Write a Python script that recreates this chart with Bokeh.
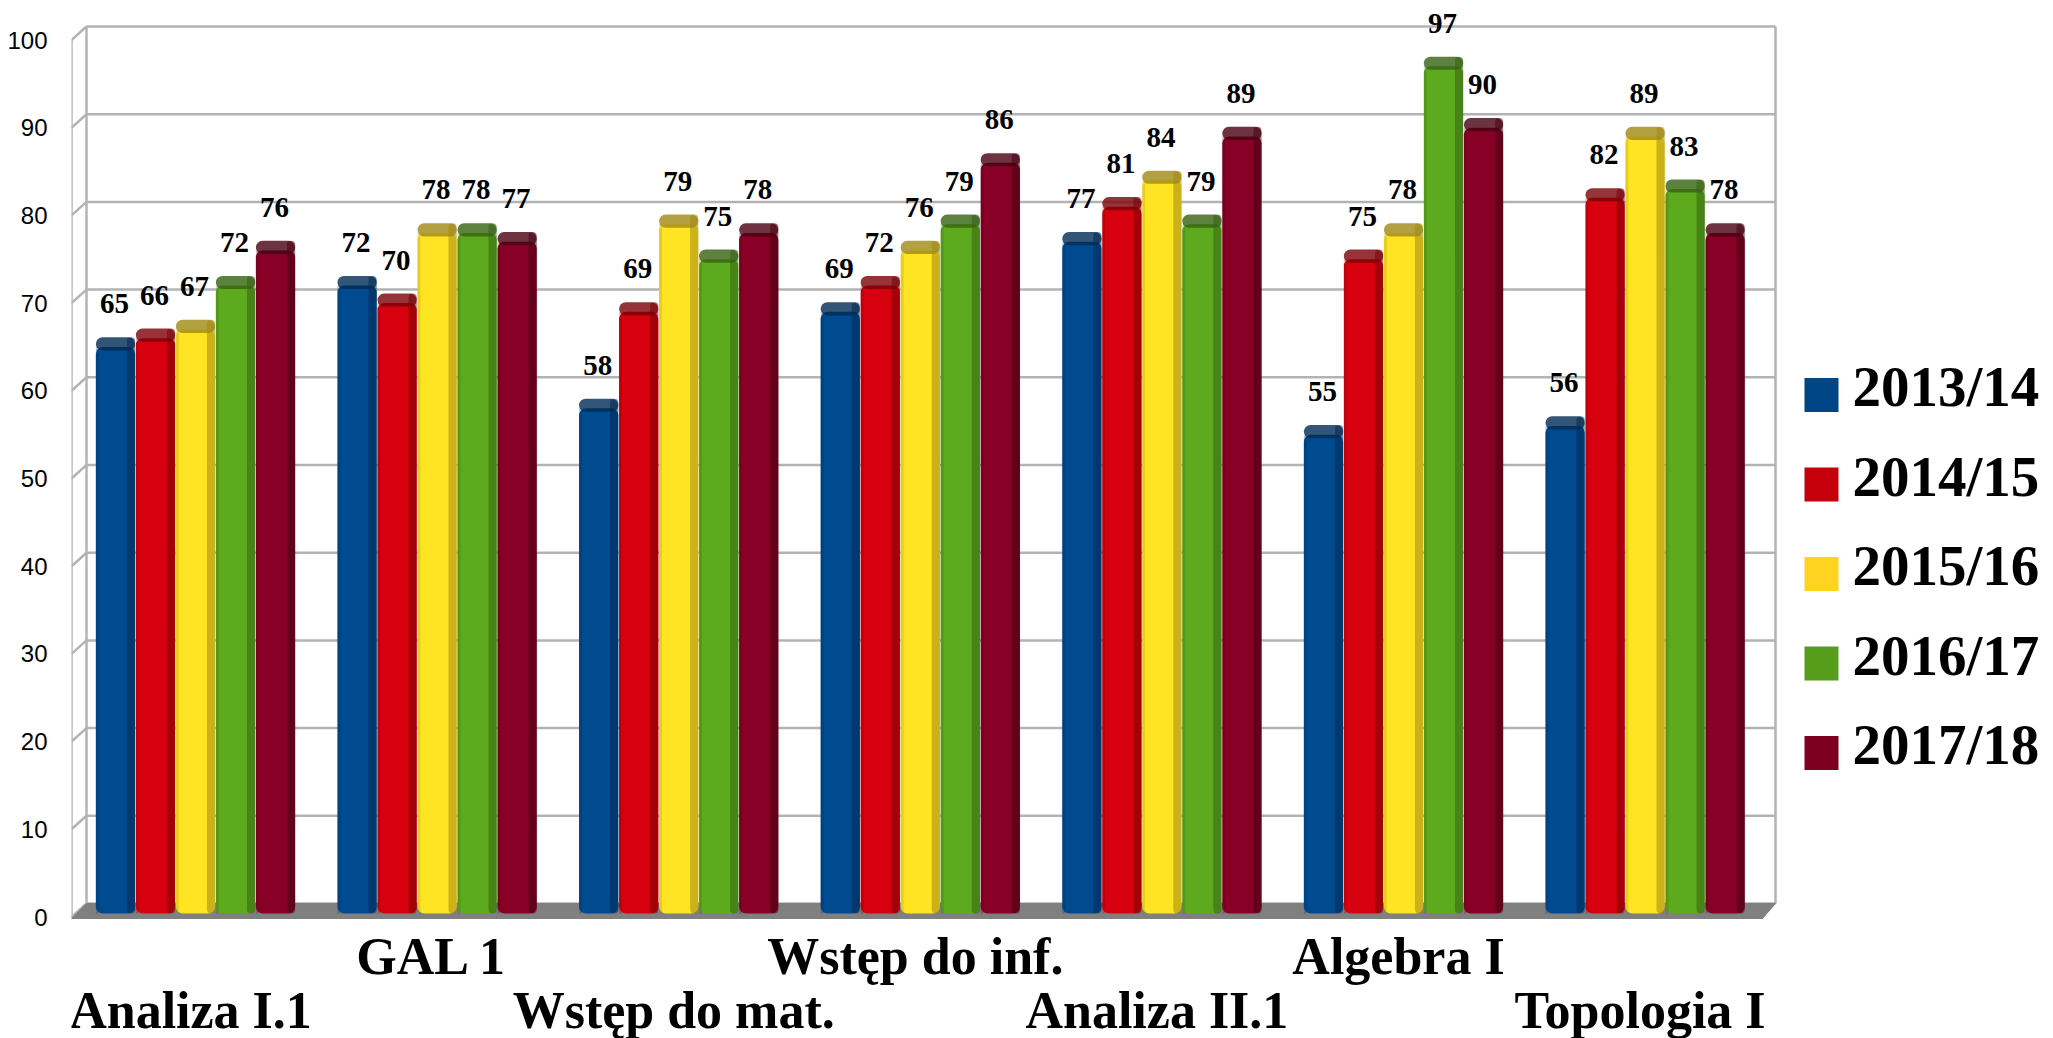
from bokeh.plotting import figure
from bokeh.models import FixedTicker
from bokeh.core.properties import value
from bokeh.embed import file_html
from bokeh.resources import INLINE

# ---------------- data ----------------
courses = ["Analiza I.1", "GAL 1", "Wstęp do mat.", "Wstęp do inf.",
           "Analiza II.1", "Algebra I", "Topologia I"]
years = ["2013/14", "2014/15", "2015/16", "2016/17", "2017/18"]
s2013 = [65, 72, 58, 69, 77, 55, 56]
s2014 = [66, 70, 69, 72, 81, 75, 82]
s2015 = [67, 78, 79, 76, 84, 78, 89]
s2016 = [72, 78, 75, 79, 79, 97, 83]
s2017 = [76, 77, 78, 86, 89, 90, 78]
series = [s2013, s2014, s2015, s2016, s2017]
y_ticks = list(range(0, 101, 10))

# ---------------- style ----------------
bar_colors = ["#004a8f", "#d7000f", "#ffe424", "#5eaa1f", "#880026"]
dark_colors = ["#002a55", "#7a0008", "#a08812", "#34620f", "#480013"]
legend_colors = ["#004586", "#c5000b", "#ffd320", "#579d1c", "#7e0021"]
grid_color = "#b3b3b3"
floor_color = "#808080"

# ---------------- layout (page pixels) ----------------
W, H = 2053, 1038
LEFT = 71
PX_X0 = 195.0          # page x of first group centre
PX_PER_GROUP = 241.6
PX_Y0 = 916.5          # page y of value 0 (front)
PX_PER_UNIT = 8.77


def dx(px):
    return (px - PX_X0) / PX_PER_GROUP


def dy(py):
    return (PX_Y0 - py) / PX_PER_UNIT


back_off = 13.5 / PX_PER_UNIT
front_x, back_x, right_x = dx(71), dx(86), dx(1775)

p = figure(width=W, height=H,
           x_range=(dx(LEFT), dx(W)),
           y_range=(dy(H), dy(0)),
           output_backend="svg", toolbar_location=None, tools="",
           x_axis_location=None,
           min_border_left=LEFT, min_border_right=0,
           min_border_top=0, min_border_bottom=0)
p.outline_line_color = None
p.grid.grid_line_color = None
p.background_fill_color = "white"

ax = p.yaxis[0]
ax.ticker = FixedTicker(ticks=y_ticks)
ax.axis_line_color = None
ax.major_tick_line_color = None
ax.minor_tick_line_color = None
ax.major_label_text_font = "Liberation Sans"
ax.major_label_text_font_size = "24px"
ax.major_label_text_color = "#000000"
ax.major_label_standoff = 18

# ---------- 3D-ish walls ----------
n = len(y_ticks)
back_y = [t + back_off for t in y_ticks]
p.segment(x0=[back_x] * n, y0=back_y, x1=[right_x] * n, y1=back_y,
          line_color=grid_color, line_width=2.5)
p.segment(x0=[front_x] * n, y0=y_ticks, x1=[back_x] * n, y1=back_y,
          line_color=grid_color, line_width=2.5)
p.segment(x0=[back_x, right_x, front_x], y0=[back_off, back_off, dy(918)],
          x1=[back_x, right_x, front_x],
          y1=[y_ticks[-1] + back_off, y_ticks[-1] + back_off, y_ticks[-1]],
          line_color=grid_color, line_width=2.5)
p.patch(x=[front_x, dx(1762), right_x, back_x],
        y=[dy(918), dy(918), back_off, back_off],
        fill_color=floor_color, line_color=floor_color)

# ---------- bars ----------
pitch = 0.1656
bw = 0.1625
sw = 0.034
cap = 1.1
base = dy(913)
label_gap = 43 / PX_PER_UNIT
for k, vals in enumerate(series):
    xs = [i + (k - 2) * pitch for i in range(len(courses))]
    tops = vals
    p.vbar(x=xs, top=tops, bottom=base, width=bw,
           fill_color=bar_colors[k], line_color=None, border_radius=7)
    p.vbar(x=xs, top=[v + cap for v in tops], bottom=[v - 0.4 for v in tops],
           width=bw, fill_color=dark_colors[k], fill_alpha=0.8,
           line_color=None, border_radius=7)
    p.vbar(x=[x + bw / 2 - sw / 2 for x in xs], top=[v + cap for v in tops],
           bottom=base, width=sw, fill_color=dark_colors[k], fill_alpha=0.55,
           line_color=None, border_radius=5)
    p.vbar(x=[x - bw / 2 + 0.006 for x in xs], top=tops, bottom=base,
           width=0.012, fill_color=dark_colors[k], fill_alpha=0.25,
           line_color=None)
    p.text(x=xs, y=[v + label_gap for v in vals],
           text=[str(v) for v in vals], x_offset=-1, text_align="center",
           text_baseline="middle", text_font=value("Liberation Serif"),
           text_font_style="bold", text_font_size="29px", text_color="#000000")

# ---------- category labels (staggered) ----------
p.text(x=list(range(len(courses))),
       y=[dy(955.5) if i % 2 else dy(1010) for i in range(len(courses))],
       text=courses, x_offset=-5, text_align="center",
       text_baseline="middle", text_font=value("Liberation Serif"),
       text_font_style="bold", text_font_size="52px", text_color="#000000")

# ---------- legend ----------
ny = len(years)
p.scatter(x=[dx(1821)] * ny, y=[dy(394.5 + 89.5 * k) for k in range(ny)],
          marker="square", size=34, fill_color=legend_colors, line_color=None)
p.text(x=[dx(1852)] * ny, y=[dy(386 + 89.5 * k) for k in range(ny)],
       text=years, text_align="left", text_baseline="middle",
       text_font=value("Liberation Serif"), text_font_style="bold",
       text_font_size="57px", text_color="#000000")

open("out.html", "w").write(file_html(p, INLINE))
